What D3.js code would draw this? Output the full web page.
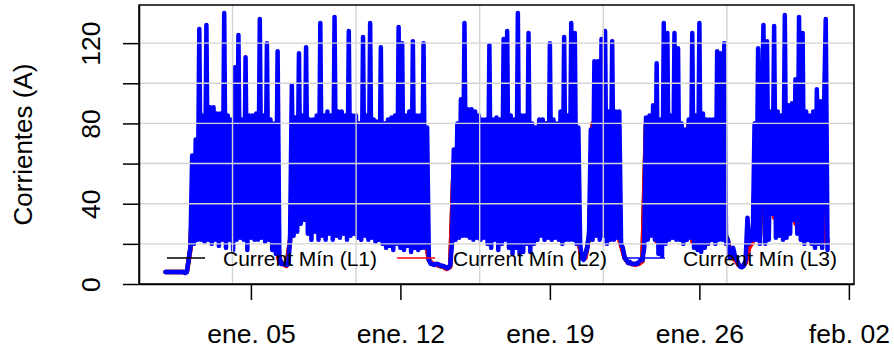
<!DOCTYPE html>
<html><head><meta charset="utf-8">
<script src="https://cdn.jsdelivr.net/npm/d3@7"></script>
<style>
body{margin:0;background:#fff}
svg{display:block}
text{font-family:"Liberation Sans",Arial,Helvetica,sans-serif;fill:#000}
</style>
</head><body>
<svg id="chart" width="894" height="354"></svg>
<script>
// ---------------- data ----------------
const seriesNames = ["Current Mín (L1)", "Current Mín (L2)", "Current Mín (L3)"];
const seriesColors = ["#000000", "#FF0000", "#0000FF"];
const startTime = "2017-01-01T00:00:00Z";
const stepHoursL1 = 4, stepHoursL2 = 4, stepHoursL3 = 2;

// L1 (black), one row per day, 4-hour readings
const currentL1 = [
  6,6,6,6,6,6,
  6,18,60,26,80,26,
  82,26,82,26,82,26,
  80,26,80,26,80,26,
  80,26,80,26,80,26,
  78,20,12,10,9.5,22,
  80,30,80,33,80,26,
  80,26,80,26,80,26,
  80,26,80,26,80,26,
  80,26,80,26,80,26,
  80,24,80,24,80,24,
  80,24,80,24,80,24,
  80,24,12,10,10,9,
  9,8,9,60,26,80,
  26,80,26,80,26,80,
  26,80,24,80,24,80,
  24,80,22,80,22,80,
  22,78,24,80,26,80,
  26,80,26,80,26,80,
  26,80,22,13,14,24,
  80,26,80,26,80,26,
  80,26,20,13,10.5,10,
  10,10.5,11.5,80,26,80,
  22,80,22,80,26,80,
  26,78,24,80,22,80,
  22,80,24,80,24,80,
  80,26,22,13,14,9.5,
  8.5,11,19,22,80,24,
  80,26,80,34,80,26,
  80,26,80,31,80,24,
  80,24,80,22,80,22,
  22
];

// L2 (red), one row per day, 4-hour readings
const currentL2 = [
  6,6,6,6,6,6,
  6,17,62,25,80,25,
  82,25,82,25,82,25,
  80,25,80,25,80,25,
  80,25,80,25,80,25,
  78,19,11,10,9,21,
  80,29,80,32,80,25,
  80,25,80,25,80,25,
  80,25,80,25,80,25,
  80,25,80,25,80,25,
  80,23,80,23,80,23,
  80,23,80,23,80,23,
  80,23,12,10,9.5,9,
  8.5,7.5,8.5,62,25,80,
  25,80,25,80,25,80,
  25,80,23,80,23,80,
  23,80,21,80,21,80,
  21,78,23,80,25,80,
  25,80,25,80,25,80,
  25,80,21,13,13,23,
  80,25,80,25,80,25,
  80,25,19,13,10.5,10,
  9.5,10,11.5,80,25,80,
  21,80,21,80,25,80,
  25,78,23,80,21,80,
  21,80,23,80,23,80,
  80,25,21,13,12,9.5,
  8.5,10.5,18,21,80,23,
  80,25,80,33,80,25,
  80,25,80,30,80,23,
  80,23,80,21,80,21,
  21
];

// L3 (blue), one row per day, 2-hour readings
const currentL3 = [
  6,6,6,6,6,6,6,6,6,6,6,5.5,
  6,12,18,64,20,72,22,127,22,84,21,129,
  22,88,20,88,22,85,19,85,22,135,18,84,
  22,82,17,108,22,124,23,82,22,113,17,84,
  23,84,22,85,22,132,23,84,21,120,22,82,
  17,80,15,116,14,10,10,10,9.5,10,22,99,
  24,83,26,115,30,84,32,118,25,82,22,82,
  26,84,22,130,24,84,22,86,25,84,22,133,
  24,86,23,86,25,84,22,126,24,84,25,84,
  23,80,22,123,24,84,22,130,23,82,21,81,
  22,118,20,80,18,82,19,83,17,84,20,128,
  18,120,17,84,19,86,16,121,18,84,17,84,
  18,120,18,78,12,10,10,9.5,10,10,9.5,9,
  9,8.5,8,8,9.5,20,67,22,80,23,92,24,
  130,24,87,23,87,22,86,23,84,22,82,23,
  82,20,119,18,82,22,83,17,82,20,122,22,
  126,18,84,15,82,18,135,15,84,16,84,20,
  125,16,80,20,78,22,82,24,82,22,80,23,
  120,22,82,23,80,22,86,20,123,22,84,22,
  130,22,125,20,78,20,13,12,15,18,25,77,
  22,111,24,111,22,122,24,126,20,86,22,121,
  22,86,23,86,20,18,13,12,10.5,11,10,10,
  10,10,11,12,12,18,83,22,84,24,89,22,
  110,15,82,14,130,20,125,22,84,23,125,22,
  117.5,22,80,20,77,22,82,23,125,18,84,17,
  130,16,85,18,82,20,82,22,82,20,116,22,
  115,22,120,20,22,13,14,18,14,12,10,8.5,
  8.5,9,12,33,20,27,22,80,22,117.5,20,84,
  129,20,121,22,86,35,128.5,23,86,24,84,22,
  134,23,89,25,90,32,102,25,133,22,125,20,
  86,22,84,20,86,18,97,20,91,18,86,132,
  17
];

const xTickDates = ["2017-01-05T00:00:00Z","2017-01-12T00:00:00Z","2017-01-19T00:00:00Z","2017-01-26T00:00:00Z","2017-02-02T00:00:00Z"];
const xTickLabels = ["ene. 05","ene. 12","ene. 19","ene. 26","feb. 02"];
const yTicks = [0,20,40,60,80,100,120];
const yTickLabels = [0,40,80,120];
const yGridValues = [20,40,60,80,100,120];
const xGridEpochSeconds = [1483500000,1484000000,1484500000,1485000000,1485500000];
const yAxisTitle = "Corrientes (A)";
const yMax = 139;

// ---------------- layout ----------------
const plot = {left: 139, right: 854, top: 5, bottom: 284};
const svg = d3.select("#chart");
svg.append("rect").attr("width", 894).attr("height", 354).attr("fill", "#fff");

const HOUR = 36e5;
const t0 = Date.parse(startTime);
const tEnd = t0 + (currentL3.length - 1) * stepHoursL3 * HOUR;
const pad = (tEnd - t0) * 0.04;

const x = d3.scaleUtc().domain([new Date(t0 - pad), new Date(tEnd + pad)]).range([plot.left, plot.right]);
const y = d3.scaleLinear().domain([0, yMax]).range([plot.bottom, plot.top]);

function toPoints(values, stepH) {
  return values.map((v, i) => ({t: new Date(t0 + i * stepH * HOUR), v}));
}
const series = [
  toPoints(currentL1, stepHoursL1),
  toPoints(currentL2, stepHoursL2),
  toPoints(currentL3, stepHoursL3)
];

svg.append("clipPath").attr("id", "clip").append("rect")
  .attr("x", plot.left).attr("y", plot.top)
  .attr("width", plot.right - plot.left).attr("height", plot.bottom - plot.top);

const line = d3.line().x(d => x(d.t)).y(d => y(d.v));
const dataG = svg.append("g").attr("clip-path", "url(#clip)");
series.forEach((pts, k) => {
  dataG.append("path").datum(pts)
    .attr("d", line)
    .attr("fill", "none")
    .attr("stroke", seriesColors[k])
    .attr("stroke-width", 4.5)
    .attr("stroke-linejoin", "round")
    .attr("stroke-linecap", "round");
});

// grid (drawn over the data, as in the reference)
const gridG = svg.append("g").attr("stroke", "#D3D3D3").attr("stroke-width", 1.4);
gridG.selectAll("line.v").data(xGridEpochSeconds).join("line")
  .attr("x1", d => x(new Date(d * 1000))).attr("x2", d => x(new Date(d * 1000)))
  .attr("y1", plot.top).attr("y2", plot.bottom);
gridG.selectAll("line.h").data(yGridValues).join("line")
  .attr("x1", plot.left).attr("x2", plot.right)
  .attr("y1", d => y(d)).attr("y2", d => y(d));

// box
svg.append("rect")
  .attr("x", plot.left).attr("y", plot.top)
  .attr("width", plot.right - plot.left).attr("height", plot.bottom - plot.top)
  .attr("fill", "none").attr("stroke", "#000").attr("stroke-width", 1.5);

// x axis
const xAxis = d3.axisBottom(x)
  .tickValues(xTickDates.map(d => new Date(d)))
  .tickFormat((d, i) => xTickLabels[i])
  .tickSize(16).tickSizeOuter(0);
const gx = svg.append("g").attr("transform", `translate(0,${plot.bottom})`).call(xAxis);
gx.select(".domain").attr("stroke-width", 1.5);
gx.selectAll(".tick line").attr("stroke-width", 1.5);
gx.selectAll(".tick text")
  .attr("y", 59).attr("dy", 0)
  .style("font-size", "26.5px")
  .style("font-family", '"Liberation Sans", Arial, sans-serif');

// y axis
const yAxis = d3.axisLeft(y)
  .tickValues(yTicks)
  .tickFormat(d => yTickLabels.includes(d) ? String(d) : "")
  .tickSize(16).tickSizeOuter(0);
const gy = svg.append("g").attr("transform", `translate(${plot.left},0)`).call(yAxis);
gy.select(".domain").attr("stroke-width", 1.5);
gy.selectAll(".tick line").attr("stroke-width", 1.5);
gy.selectAll(".tick text")
  .attr("x", 0).attr("y", 0).attr("dy", 0)
  .attr("transform", "translate(-39,0) rotate(-90)")
  .attr("text-anchor", "middle")
  .style("font-size", "26.5px")
  .style("font-family", '"Liberation Sans", Arial, sans-serif');

// y title
svg.append("text")
  .attr("transform", `translate(31.5,${(plot.top + plot.bottom) / 2}) rotate(-90)`)
  .attr("text-anchor", "middle")
  .style("font-size", "26px")
  .text(yAxisTitle);

// legend
const legendX0 = 167, legendStep = 230, legendLineLen = 38, legendTextOffset = 56, legendY = 258;
const lg = svg.append("g");
seriesNames.forEach((name, k) => {
  const lx = legendX0 + k * legendStep;
  lg.append("line")
    .attr("x1", lx).attr("x2", lx + legendLineLen)
    .attr("y1", legendY).attr("y2", legendY)
    .attr("stroke", seriesColors[k]).attr("stroke-width", 1.5);
  lg.append("text")
    .attr("x", lx + legendTextOffset).attr("y", legendY + 7.5)
    .style("font-size", "21px")
    .text(name);
});
</script>
</body></html>
